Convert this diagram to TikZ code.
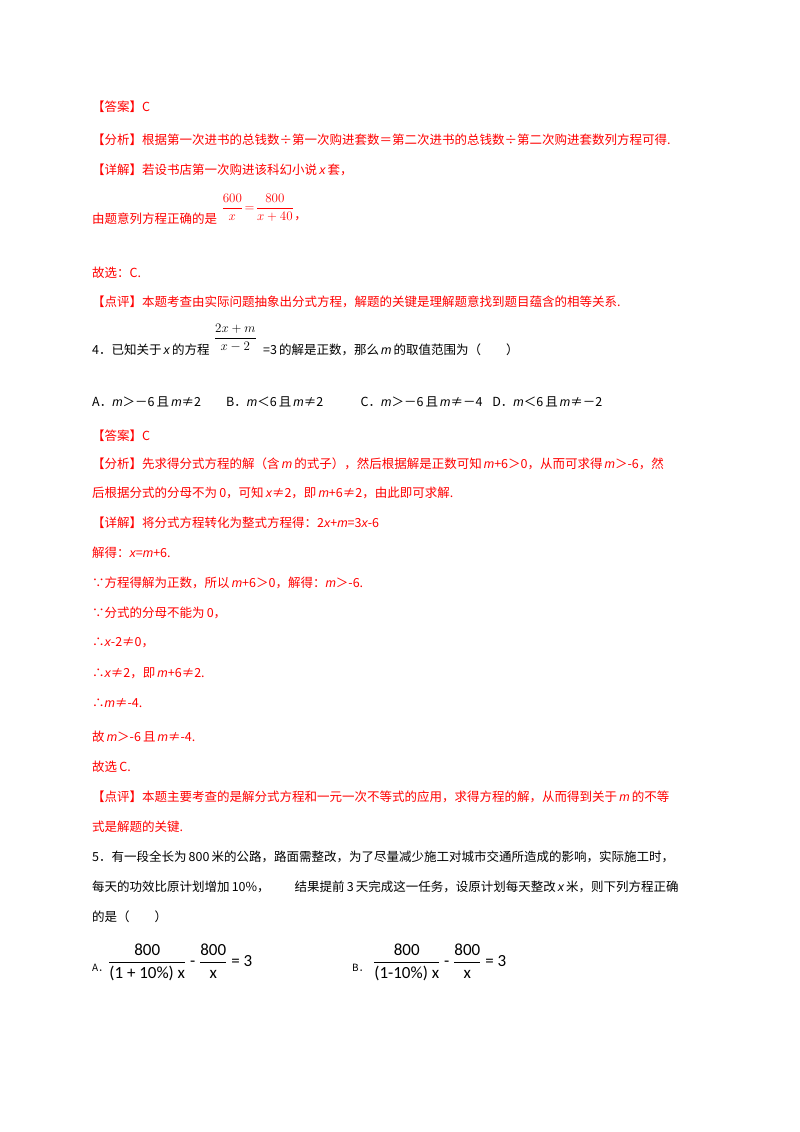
\documentclass[tikz,border=0pt]{standalone}
\usepackage{fix-cm}
\usepackage{amsmath}
\usepackage{fontspec}
\setmainfont{Noto Sans CJK SC}
\newfontfamily\mathsans{Carlito}
\newfontfamily\lib{Liberation Sans}
\newcommand\vi[1]{{\lib\itshape #1}}
\definecolor{ans}{RGB}{255,0,0}
\begin{document}
\begin{tikzpicture}[x=1pt,y=-1pt,
  t/.style={anchor=west,inner sep=0pt,font=\fontsize{12.5}{15}\selectfont},
  r/.style={t,text=ans},
  fr/.style={anchor=west,inner sep=0pt,font=\fontsize{13}{16}\selectfont}]
\useasboundingbox (0,0) rectangle (800,1132);
\node[r] (l1) at (92,107) {【答案】C};
\node[r] (l2) at (92,140) {【分析】根据第一次进书的总钱数÷第一次购进套数＝第二次进书的总钱数÷第二次购进套数列方程可得.};
\node[r] (l3) at (92,170) {【详解】若设书店第一次购进该科幻小说\,\vi{x}\,套，};
\node[r] (l4) at (92,219) {由题意列方程正确的是};
\node[fr,text=ans] (f1) at ([xshift=4pt]l4.east|-0,208) {$\dfrac{600}{x}\!=\!\dfrac{800}{x+40}$};
\node[r] (l4b) at (f1.east|-l4) {，};
\node[r] (l5) at (92,273) {故选：C.};
\node[r] (l6) at (92,302) {【点评】本题考查由实际问题抽象出分式方程，解题的关键是理解题意找到题目蕴含的相等关系.};
\node[t] (q4) at (92,350) {4．已知关于\,\vi{x}\,的方程};
\node[fr] (f2) at ([xshift=4pt]q4.east|-0,338) {$\dfrac{2x+m}{x-2}$};
\node[t] (q4b) at ([xshift=6pt]f2.east|-q4) {=3\,的解是正数，那么\,\vi{m}\,的取值范围为（\qquad）};
\node[t] (o4) at (92,402) {A．\vi{m}＞－6\,且\,\vi{m}≠2\qquad B．\vi{m}＜6\,且\,\vi{m}≠2\qquad\quad C．\vi{m}＞－6\,且\,\vi{m}≠－4\;\; D．\vi{m}＜6\,且\,\vi{m}≠－2};
\node[r] (a1) at (92,436) {【答案】C};
\node[r] (a2) at (92,464) {【分析】先求得分式方程的解（含\,\vi{m}\,的式子），然后根据解是正数可知\,\vi{m}+6＞0，从而可求得\,\vi{m}＞-6，然};
\node[r] (a3) at (92,493) {后根据分式的分母不为\,0，可知\,\vi{x}≠2，即\,\vi{m}+6≠2，由此即可求解.};
\node[r] (a4) at (92,523) {【详解】将分式方程转化为整式方程得：2\vi{x}+\vi{m}=3\vi{x}-6};
\node[r] (a5) at (92,553) {解得：\vi{x}=\vi{m}+6.};
\node[r] (a6) at (92,583) {∵方程得解为正数，所以\,\vi{m}+6＞0，解得：\vi{m}＞-6.};
\node[r] (a7) at (92,613) {∵分式的分母不能为\,0，};
\node[r] (a8) at (92,643) {∴\vi{x}-2≠0，};
\node[r] (a9) at (92,673) {∴\vi{x}≠2，即\,\vi{m}+6≠2.};
\node[r] (a10) at (92,703) {∴\vi{m}≠-4.};
\node[r] (a11) at (92,737) {故\,\vi{m}＞-6\,且\,\vi{m}≠-4.};
\node[r] (a12) at (92,767) {故选\,C.};
\node[r] (a13) at (92,797) {【点评】本题主要考查的是解分式方程和一元一次不等式的应用，求得方程的解，从而得到关于\,\vi{m}\,的不等};
\node[r] (a14) at (92,827) {式是解题的关键.};
\node[t] (q5) at (92,857) {5．有一段全长为\,800\,米的公路，路面需整改，为了尽量减少施工对城市交通所造成的影响，实际施工时，};
\node[t] (q5b) at (92,887) {每天的功效比原计划增加\,10\%，\qquad 结果提前\,3\,天完成这一任务，设原计划每天整改\,\vi{x}\,米，则下列方程正确};
\node[t] (q5c) at (92,917) {的是（\qquad）};
\node[t] (oA) at (92,968) {\fontsize{10}{12}\selectfont A．};
\node[fr] (fA) at (108,962) {\mathsans\fontsize{17}{20}\selectfont $\dfrac{\text{800}}{\text{(1 + 10\%) x}}$ - $\dfrac{\text{800}}{\text{x}}$ = 3};
\node[t] (oB) at (352,968) {\fontsize{10}{12}\selectfont B．};
\node[fr] (fB) at (373,962) {\mathsans\fontsize{17}{20}\selectfont $\dfrac{\text{800}}{\text{(1-10\%) x}}$ - $\dfrac{\text{800}}{\text{x}}$ = 3};
\end{tikzpicture}
\end{document}
